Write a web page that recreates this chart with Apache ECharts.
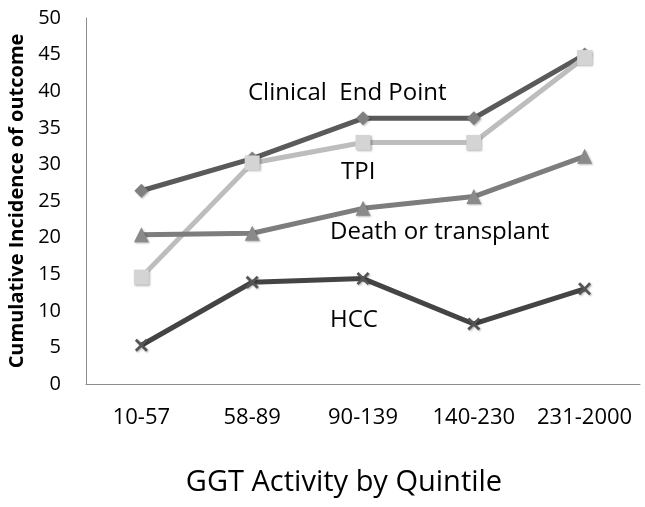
<!DOCTYPE html>
<html><head><meta charset="utf-8">
<script src="https://cdn.jsdelivr.net/npm/echarts@6/dist/echarts.min.js"></script>
<style>html,body{margin:0;padding:0;background:#fff}#c{width:645px;height:507px}</style>
</head><body><div id="c"></div>
<script>
const categories = ['10-57','58-89','90-139','140-230','231-2000'];
const clinical = [26.4, 30.8, 36.3, 36.3, 45.0];
const tpi = [14.6, 30.2, 33.0, 33.0, 44.6];
const death = [20.4, 20.6, 24.0, 25.6, 31.1];
const hcc = [5.3, 13.9, 14.4, 8.2, 13.0];
const yTicks = [0,5,10,15,20,25,30,35,40,45,50];

const FONT = '"Open Sans", "Noto Sans", sans-serif';
const xPath = 'path://M0,1.5L1.5,0L5,3.5L8.5,0L10,1.5L6.5,5L10,8.5L8.5,10L5,6.5L1.5,10L0,8.5L3.5,5Z';

const chart = echarts.init(document.getElementById('c'));
function ser(name, data, color, mColor, symbol, size) {
  return {
    name, type: 'line', data, symbol, symbolSize: size,
    lineStyle: {color, width: 5},
    itemStyle: {color: mColor, borderColor: mColor, borderWidth: 0,
      shadowColor: 'rgba(0,0,0,0.3)', shadowBlur: 2, shadowOffsetX: 1, shadowOffsetY: 1},
    emphasis: {disabled: true}, animation: false
  };
}
chart.setOption({
  animation: false,
  grid: {left: 86, right: 5, top: 18, bottom: 123, containLabel: false, outerBoundsMode: 'none'},
  xAxis: {
    type: 'category', data: categories, boundaryGap: true,
    axisLine: {lineStyle: {color: '#8c8c8c', width: 1}},
    axisTick: {show: false},
    axisLabel: {color: '#000', fontSize: 22, fontFamily: FONT, margin: 23, interval: 0},
    name: 'GGT Activity by Quintile', nameLocation: 'middle', nameGap: 84,
    nameTextStyle: {color: '#000', fontSize: 29, fontFamily: FONT, padding: [0, 38, 0, 0]}
  },
  yAxis: {
    type: 'value', min: 0, max: 50, interval: 5,
    axisLine: {show: true, lineStyle: {color: '#8c8c8c', width: 1}},
    axisTick: {show: false},
    splitLine: {show: false},
    axisLabel: {color: '#000', fontSize: 20, fontFamily: FONT, margin: 25,
      formatter: v => yTicks.includes(v) ? String(v) : ''},
    name: 'Cumulative Incidence of outcome', nameLocation: 'middle', nameGap: 59,
    nameTextStyle: {color: '#000', fontSize: 20, fontWeight: 'bold', fontFamily: FONT}
  },
  series: [
    ser('Clinical End Point', clinical, '#5a5a5a', '#808080', 'diamond', 14),
    ser('TPI', tpi, '#bdbdbd', '#d4d4d4', 'rect', 15),
    ser('Death or transplant', death, '#7d7d7d', '#8a8a8a', 'triangle', 15),
    ser('HCC', hcc, '#444444', '#555555', xPath, 13)
  ],
  graphic: [
    {type: 'text', x: 248, y: 93, style: {text: 'Clinical  End Point', font: '24px ' + FONT, fill: '#000', verticalAlign: 'middle'}},
    {type: 'text', x: 341, y: 172, style: {text: 'TPI', font: '24px ' + FONT, fill: '#000', verticalAlign: 'middle'}},
    {type: 'text', x: 330, y: 232, style: {text: 'Death or transplant', font: '24px ' + FONT, fill: '#000', verticalAlign: 'middle'}},
    {type: 'text', x: 330, y: 320, style: {text: 'HCC', font: '24px ' + FONT, fill: '#000', verticalAlign: 'middle'}}
  ]
});
</script></body></html>
